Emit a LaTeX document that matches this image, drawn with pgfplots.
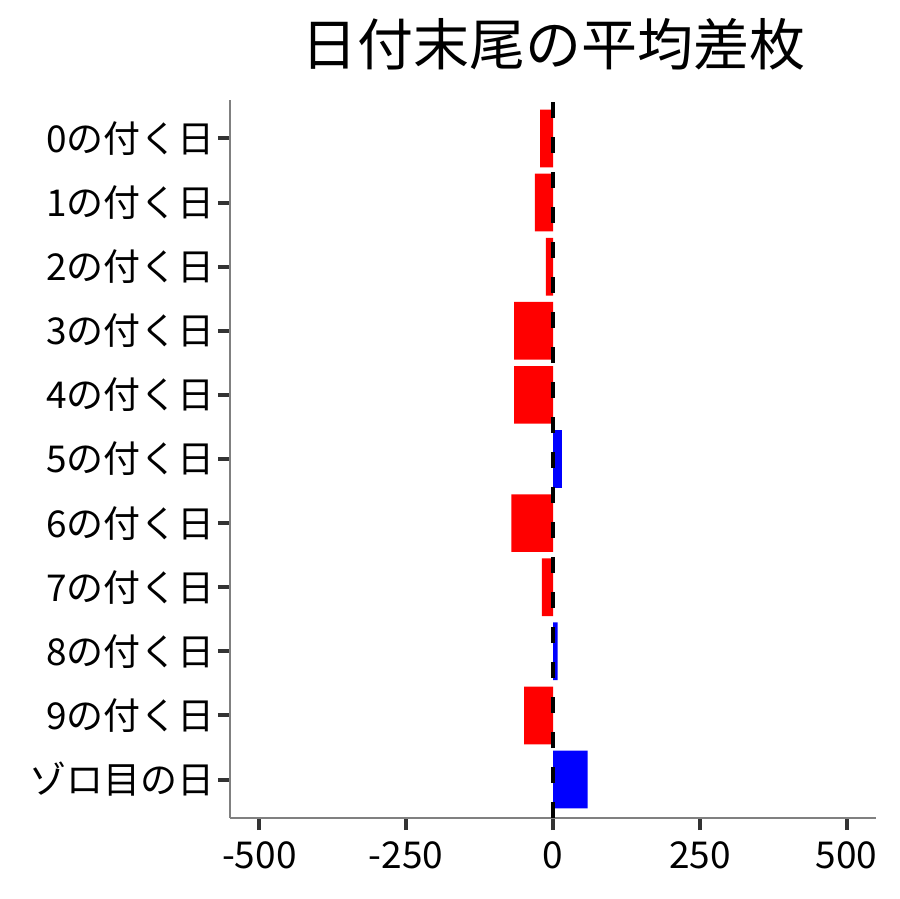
\documentclass[border=0pt]{standalone}
\usepackage{pgfplots}
\pgfplotsset{compat=1.18}
\usepackage{fontspec}
\setmainfont{Noto Sans CJK JP}
\definecolor{axgray}{RGB}{128,128,128}
\definecolor{tickgray}{RGB}{51,51,51}
\begin{document}
\begin{tikzpicture}
\begin{axis}[
  name=ax,
  scale only axis,
  width=323pt, height=359pt,
  xmin=-550, xmax=550,
  ymin=-0.6, ymax=10.6,
  y dir=reverse,
  axis x line*=bottom, axis y line*=left,
  axis line style={-, draw=axgray, line width=0.75pt},
  tick align=outside,
  major tick length=6pt,
  tick style={line width=2pt, draw=tickgray},
  xtick={-500,-250,0,250,500},
  xticklabels={-500,-250,0,250,500},
  ytick={0,...,10},
  yticklabels={0の付く日,1の付く日,2の付く日,3の付く日,4の付く日,5の付く日,6の付く日,7の付く日,8の付く日,9の付く日,ゾロ目の日},
  ticklabel style={font=\fontsize{18.5pt}{22pt}\selectfont, inner sep=0pt},
  yticklabel style={anchor=east, xshift=-1.5pt},
  xticklabel style={anchor=north, yshift=-5.5pt},
  xbar, bar width=0.9, bar shift=0pt,
  clip=false,
]
\addplot[fill=red, draw=none] coordinates {
  (-22,0) (-31,1) (-12,2) (-66,3) (-66,4) (-71,6) (-19,7) (-49,9)
};
\addplot[fill=blue, draw=none] coordinates {
  (15,5) (8,8) (59,10)
};
\addplot[xbar=false, sharp plot, black, line width=2pt, dash pattern=on 8pt off 9.5pt]
  coordinates {(0,10.6) (0,-0.6)};
\end{axis}
\node[anchor=center, font=\fontsize{28pt}{32pt}\selectfont, inner sep=0pt]
  at ([yshift=28pt]ax.north) {日付末尾の平均差枚};
\pgfresetboundingbox
\path ([xshift=-115pt,yshift=-40.5pt]ax.south west) rectangle ([xshift=12pt,yshift=50pt]ax.north east);
\end{tikzpicture}
\end{document}
